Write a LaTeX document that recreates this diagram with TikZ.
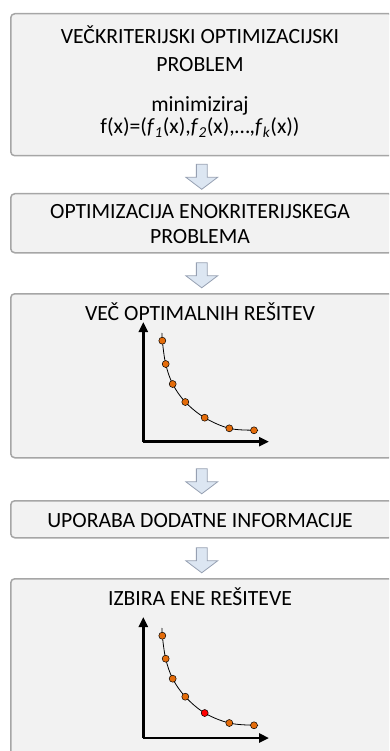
\documentclass[tikz,border=0pt]{standalone}
\usepackage{fontspec}
\setmainfont{Carlito}
\usetikzlibrary{shapes.arrows,arrows.meta,calc}
\definecolor{boxfill}{RGB}{242,242,242}
\definecolor{boxline}{RGB}{166,166,166}
\definecolor{arrfill}{RGB}{220,230,242}
\definecolor{arrline}{RGB}{150,160,178}
\definecolor{dotorange}{RGB}{228,108,10}
\definecolor{dotred}{RGB}{255,0,0}
\tikzset{
  stagebox/.style={draw=boxline, fill=boxfill, line width=1.5pt, rounded corners=4pt,
    rectangle, anchor=north west, inner sep=0pt},
  blockarrow/.style={single arrow, draw=arrline, fill=arrfill, line width=0.8pt,
    shape border rotate=270, minimum height=25pt, minimum width=31pt,
    single arrow head extend=10.5pt, inner sep=5pt, single arrow tip angle=106},
  lbl/.style={anchor=base, inner sep=0pt, font=\fontsize{21.7}{26}\selectfont},
  axis/.style={line width=2.6pt, -{Triangle[length=10pt,width=9pt]}},
  curve/.style={line width=0.8pt},
  dot/.style={circle, draw=black, line width=0.5pt, fill=dotorange, minimum size=7pt, inner sep=0pt},
  reddot/.style={dot, fill=dotred}
}
\begin{document}
\begin{tikzpicture}[x=1pt,y=-1pt]
\useasboundingbox (0,0) rectangle (389,751);
\clip (0,0) rectangle (389,751);
% boxes
\node[stagebox, minimum width=382pt, minimum height=142pt] (b1) at (10,13) {};
\node[stagebox, minimum width=382pt, minimum height=59pt] (b2) at (10,193) {};
\node[stagebox, minimum width=382pt, minimum height=164pt] (b3) at (10,293) {};
\node[stagebox, minimum width=382pt, minimum height=37pt] (b4) at (10,500) {};
\node[stagebox, minimum width=382pt, minimum height=190pt] (b5) at (10,578) {};
% texts
\node[lbl] (t1a) at (200,44) {VEČKRITERIJSKI OPTIMIZACIJSKI};
\node[lbl] (t1b) at (200,71.7) {PROBLEM};
\node[lbl] (t1c) at (200,111.7) {minimiziraj};
\node[lbl] (t1d) at (200,134) {f(x)=(\textit{f}\textsubscript{\textit{1}}(x),\textit{f}\textsubscript{\textit{2}}(x),…,\textit{f}\textsubscript{\textit{k}}(x))};
\node[lbl] (t2a) at (200,218.3) {OPTIMIZACIJA ENOKRITERIJSKEGA};
\node[lbl] (t2b) at (200,243.3) {PROBLEMA};
\node[lbl] (t3) at (200,320) {VEČ OPTIMALNIH REŠITEV};
\node[lbl] (t4) at (200,527) {UPORABA DODATNE INFORMACIJE};
\node[lbl] (t5) at (200,605.7) {IZBIRA ENE REŠITEVE};
% block arrows
\node[blockarrow] (a1) at ($(b1.south)!0.5!(b2.north)$) {};
\node[blockarrow] (a2) at ($(b2.south)!0.5!(b3.north)$) {};
\node[blockarrow] (a3) at ($(b3.south)!0.5!(b4.north)$) {};
\node[blockarrow] (a4) at ($(b4.south)!0.5!(b5.north)$) {};
% graph 1
\coordinate (o1) at (143.3,441.7);
\coordinate (y1) at (143.3,322);
\coordinate (x1) at (269,441.7);
\draw[axis] (o1) -- (y1);
\draw[axis] (o1) -- (x1);
\draw[curve] plot[smooth, tension=0.6] coordinates {(162,333) (162.3,340.7) (165.7,364) (172.7,384) (185.3,402) (204.7,417.7) (229.3,428.3) (254,430.3) (258,430.3)};
\node[dot] (p11) at (162.3,340.7) {};
\node[dot] (p12) at (165.7,364) {};
\node[dot] (p13) at (172.7,384) {};
\node[dot] (p14) at (185.3,402) {};
\node[dot] (p15) at (204.7,417.7) {};
\node[dot] (p16) at (229.3,428.3) {};
\node[dot] (p17) at (254,430.3) {};
% graph 2
\coordinate (o2) at (143.3,738);
\coordinate (y2) at (143.3,617);
\coordinate (x2) at (269,738);
\draw[axis] (o2) -- (y2);
\draw[axis] (o2) -- (x2);
\draw[curve] plot[smooth, tension=0.6] coordinates {(162,628) (162.3,635.7) (165.7,658.7) (172.7,678.7) (185.3,696.7) (204.7,713) (229.3,723) (254,725.3) (258,725.3)};
\node[dot] (p21) at (162.3,635.7) {};
\node[dot] (p22) at (165.7,658.7) {};
\node[dot] (p23) at (172.7,678.7) {};
\node[dot] (p24) at (185.3,696.7) {};
\node[reddot] (p25) at (204.7,713) {};
\node[dot] (p26) at (229.3,723) {};
\node[dot] (p27) at (254,725.3) {};
\end{tikzpicture}
\end{document}
